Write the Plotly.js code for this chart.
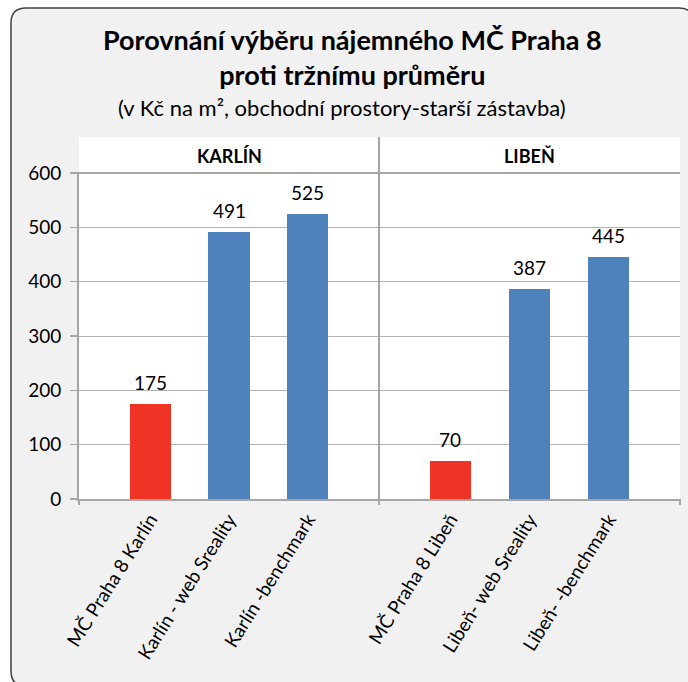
<!DOCTYPE html>
<html><head><meta charset="utf-8">
<script src="https://cdn.plot.ly/plotly-3.0.1.min.js"></script>
<style>html,body{margin:0;padding:0;background:#fff;} #chart{width:688px;height:682px;}</style>
</head><body><div id="chart"></div>
<script>
// ---- data ----
const groupLabels = ['KARLÍN', 'LIBEŇ'];
const karlinCats = ['MČ Praha 8 Karlín', 'Karlín - web Sreality', 'Karlín -benchmark'];
const karlinVals = [175, 491, 525];
const libenCats = ['MČ Praha 8 Libeň', 'Libeň- web Sreality', 'Libeň- -benchmark'];
const libenVals = [70, 387, 445];
const barColors = ['#EF3324', '#4F81BD', '#4F81BD'];
const yTickVals = [0, 100, 200, 300, 400, 500, 600];
const titleLines = ['Porovnání výběru nájemného MČ Praha 8', 'proti tržnímu průměru'];
const subtitle = '(v Kč na m², obchodní prostory-starší zástavba)';

// ---- layout geometry (pixels) ----
const W = 688, H = 682, L = 79, R = 8, T = 173, B = 183;
const pw = W - L - R, ph = H - T - B;
const px = v => (v - L) / pw;
const py = v => (H - B - v) / ph;
const split = px(379);
const FONT = 'Lato, "Open Sans", sans-serif';
const axisGrey = '#A6A6A6';

function roundRect(x0, y0, x1, y1, r) {
  const P = (x, y) => px(x) + ',' + py(y);
  return 'M' + P(x0 + r, y0) + ' L' + P(x1 - r, y0) + ' Q' + P(x1, y0) + ' ' + P(x1, y0 + r) +
    ' L' + P(x1, y1 - r) + ' Q' + P(x1, y1) + ' ' + P(x1 - r, y1) +
    ' L' + P(x0 + r, y1) + ' Q' + P(x0, y1) + ' ' + P(x0, y1 - r) +
    ' L' + P(x0, y0 + r) + ' Q' + P(x0, y0) + ' ' + P(x0 + r, y0) + ' Z';
}

const traces = [
  { type: 'bar', x: karlinCats, y: karlinVals, marker: { color: barColors }, width: 0.52,
    xaxis: 'x', yaxis: 'y', hoverinfo: 'x+y' },
  { type: 'bar', x: libenCats, y: libenVals, marker: { color: barColors }, width: 0.52,
    xaxis: 'x2', yaxis: 'y', hoverinfo: 'x+y' }
];

const valFont = { family: FONT, size: 19, color: '#000' };
const valueAnns = [];
karlinCats.forEach((c, i) => valueAnns.push({ x: c, y: karlinVals[i], xref: 'x', yref: 'y',
  text: String(karlinVals[i]), showarrow: false, yanchor: 'bottom', yshift: 8, font: valFont }));
libenCats.forEach((c, i) => valueAnns.push({ x: c, y: libenVals[i], xref: 'x2', yref: 'y',
  text: String(libenVals[i]), showarrow: false, yanchor: 'bottom', yshift: 8, font: valFont }));

const xAxisCommon = {
  type: 'category', range: [-0.9, 2.9], showline: true, linecolor: axisGrey, linewidth: 2,
  ticks: '', tickangle: -58, showgrid: false, zeroline: false, fixedrange: true,
  tickfont: { family: FONT, size: 19, color: '#000' }
};

const layout = {
  width: W, height: H,
  margin: { l: L, r: R, t: T, b: B, pad: 0 },
  paper_bgcolor: '#FFFFFF', plot_bgcolor: 'rgba(0,0,0,0)',
  showlegend: false, bargap: 0,
  font: { family: FONT, color: '#000' },
  xaxis: Object.assign({}, xAxisCommon, { domain: [0, split], anchor: 'y' }),
  xaxis2: Object.assign({}, xAxisCommon, { domain: [split, 1], anchor: 'y' }),
  yaxis: {
    range: [0, 600], tickvals: yTickVals, ticktext: yTickVals.map(String),
    showline: true, linecolor: axisGrey, linewidth: 2, ticks: 'outside', ticklen: 7,
    tickcolor: axisGrey, tickwidth: 1.5, showgrid: true, gridcolor: '#B3B3B3', gridwidth: 1,
    zeroline: false, fixedrange: true, ticklabelstandoff: 5,
    tickfont: { family: FONT, size: 19, color: '#000' }
  },
  shapes: [
    { type: 'path', xref: 'paper', yref: 'paper', layer: 'below', path: roundRect(11, 8, 694, 686, 15),
      fillcolor: '#F1F1F1', line: { color: '#404040', width: 1.5 } },
    { type: 'rect', xref: 'paper', yref: 'paper', layer: 'below', x0: 0, x1: 1, y0: 0, y1: py(137),
      fillcolor: '#FFFFFF', line: { width: 0 } },
    { type: 'line', xref: 'paper', yref: 'paper', x0: split, x1: split, y0: py(505), y1: py(137),
      line: { color: axisGrey, width: 2 } },
    { type: 'line', xref: 'paper', yref: 'paper', x0: px(72), x1: 1, y0: 1, y1: 1,
      line: { color: axisGrey, width: 2 } },
    { type: 'line', xref: 'paper', yref: 'paper', x0: 0, x1: 0, y0: py(505), y1: 0,
      line: { color: axisGrey, width: 2 } },
    { type: 'line', xref: 'paper', yref: 'paper', x0: 1, x1: 1, y0: py(505), y1: 0,
      line: { color: axisGrey, width: 2 } }
  ],
  annotations: [
    { xref: 'paper', yref: 'paper', x: px(352), y: py(57), text: '<b>' + titleLines.join('<br>') + '</b>',
      showarrow: false, xanchor: 'center', yanchor: 'middle', align: 'center',
      font: { family: FONT, size: 27, color: '#000' } },
    { xref: 'paper', yref: 'paper', x: px(342), y: py(107), text: subtitle,
      showarrow: false, xanchor: 'center', yanchor: 'middle', font: { family: FONT, size: 22, color: '#000' } },
    { xref: 'paper', yref: 'paper', x: split / 2, y: py(156), text: '<b>' + groupLabels[0] + '</b>',
      showarrow: false, xanchor: 'center', yanchor: 'middle', font: { family: FONT, size: 18, color: '#000' } },
    { xref: 'paper', yref: 'paper', x: (split + 1) / 2, y: py(156), text: '<b>' + groupLabels[1] + '</b>',
      showarrow: false, xanchor: 'center', yanchor: 'middle', font: { family: FONT, size: 18, color: '#000' } }
  ].concat(valueAnns)
};

Plotly.newPlot('chart', traces, layout, { displayModeBar: false, staticPlot: true });
</script></body></html>
